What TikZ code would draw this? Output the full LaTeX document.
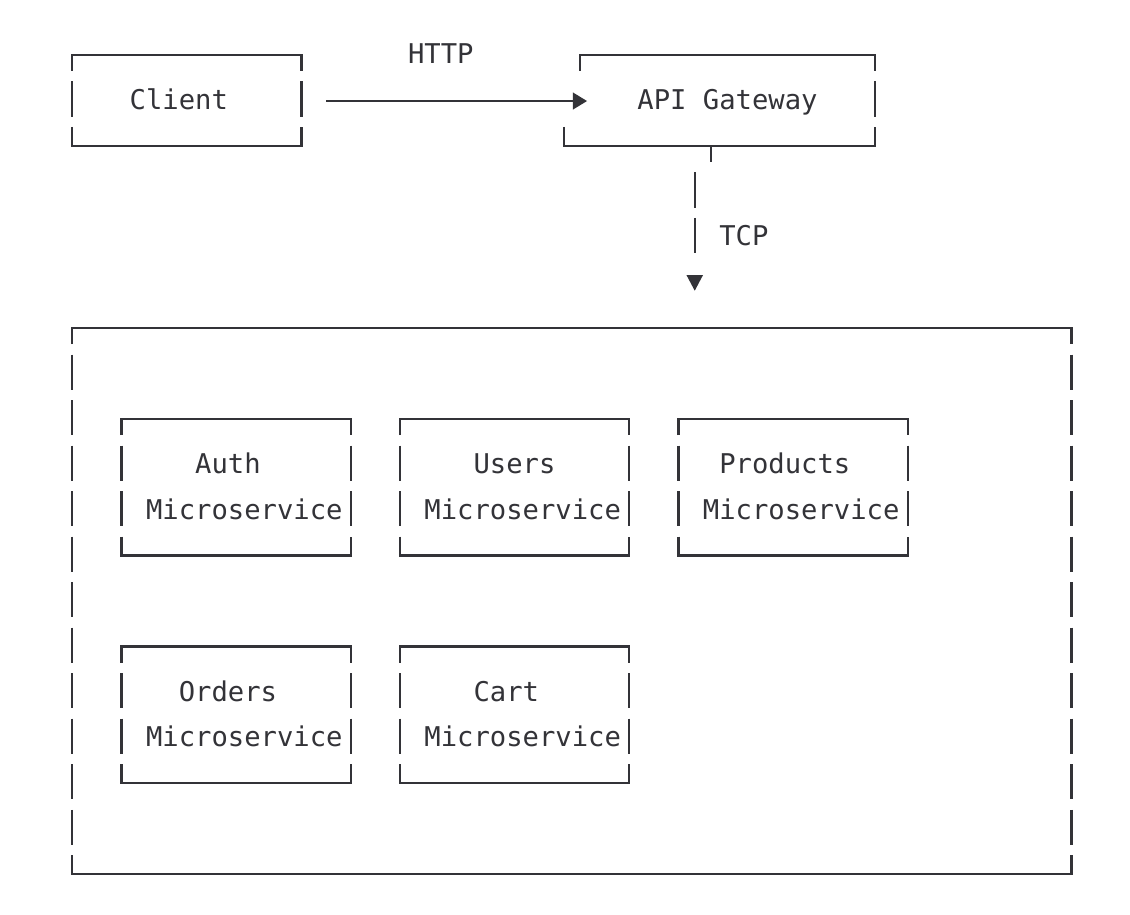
\documentclass[tikz,border=0pt]{standalone}
\usepackage{fontspec}
\setmonofont{DejaVu Sans Mono}
\usetikzlibrary{arrows.meta}
\definecolor{ink}{HTML}{333338}
\newcommand\CX[1]{(72.3+16.38*(#1))}
\newcommand\RY[1]{(53.5+45.52*(#1))}
\newcommand\HY[1]{(54.8+45.52*(#1))}
\tikzset{
  bline/.style={draw=ink, line width=2.3pt, line join=miter},
  lbl/.style={anchor=base west, inner sep=0pt, outer sep=0pt, text=ink,
              font=\ttfamily\fontsize{27.2}{27.2}\selectfont},
}
\newcommand\asciibox[4]{%
  \draw[bline] ({\CX{#1}},{\RY{#2}+17.4}) -- ({\CX{#1}},{\HY{#2}}) -- ({\CX{#3}},{\HY{#2}}) -- ({\CX{#3}},{\RY{#2}+17.4});
  \draw[bline] ({\CX{#1}},{\RY{#4}-17.6}) -- ({\CX{#1}},{\HY{#4}}) -- ({\CX{#3}},{\HY{#4}}) -- ({\CX{#3}},{\RY{#4}-17.6});
  \pgfmathtruncatemacro\boxra{#2+1}%
  \pgfmathtruncatemacro\boxrb{#4-1}%
  \foreach \rr in {\boxra,...,\boxrb}{%
    \draw[bline] ({\CX{#1}},{\RY{\rr}-17.6}) -- ({\CX{#1}},{\RY{\rr}+17.6});
    \draw[bline] ({\CX{#3}},{\RY{\rr}-17.6}) -- ({\CX{#3}},{\RY{\rr}+17.6});
  }%
}
\newcommand\txtat[4]{\node[lbl] (#1) at ({\CX{#2}-8.19},{\RY{#3}+10.3}) {#4};}
\begin{document}
\begin{tikzpicture}[x=1pt,y=-1pt]
\useasboundingbox (0,0) rectangle (1130,914);
\fill[white] (0,0) rectangle (1130,914);

% Client box
\asciibox{0}{0}{14}{2}
\txtat{client}{4}{1}{Client}

% HTTP label
\txtat{http}{21}{0}{HTTP}

% API Gateway box (irregular)
\draw[bline] ({\CX{31}},{\RY{0}+17.4}) -- ({\CX{31}},{\HY{0}}) -- ({\CX{49}},{\HY{0}}) -- ({\CX{49}},{\RY{0}+17.4});
\draw[bline] ({\CX{49}},{\RY{1}-17.6}) -- ({\CX{49}},{\RY{1}+17.6});
\draw[bline] ({\CX{30}},{\RY{2}-17.6}) -- ({\CX{30}},{\HY{2}}) -- ({\CX{49}},{\HY{2}}) -- ({\CX{49}},{\RY{2}-17.6});
\txtat{gateway}{35}{1}{API Gateway}

% HTTP connector
\coordinate (httpS) at ({\CX{16}-8.19},{\RY{1}+2});
\coordinate (httpE) at ({\CX{31}+7},{\RY{1}+2});
\draw[draw=ink, line width=2.3pt, -{Triangle[length=14.3pt,width=16.7pt]}] (httpS) -- (httpE);

% TCP connector
\coordinate (tcpA) at ({\CX{39}},{\HY{2}});
\coordinate (tcpB) at ({\CX{39}},{\RY{2}+17.2});
\draw[bline] (tcpA) -- (tcpB);
\foreach \rr in {3,4}{
  \draw[bline] ({\CX{38}},{\RY{\rr}-17.6}) -- ({\CX{38}},{\RY{\rr}+17.6});
}
\coordinate (tcpTip) at ({\CX{38}},{\RY{5}+9.6});
\fill[ink] ({\CX{38}-8.3},{\RY{5}-6.1}) -- ({\CX{38}+8.3},{\RY{5}-6.1}) -- (tcpTip) -- cycle;
\txtat{tcp}{40}{4}{TCP}

% Outer container
\asciibox{0}{6}{61}{18}

% Microservice boxes
\asciibox{3}{8}{17}{11}
\txtat{authA}{8}{9}{Auth}
\txtat{authB}{5}{10}{Microservice}

\asciibox{20}{8}{34}{11}
\txtat{usersA}{25}{9}{Users}
\txtat{usersB}{22}{10}{Microservice}

\asciibox{37}{8}{51}{11}
\txtat{prodA}{40}{9}{Products}
\txtat{prodB}{39}{10}{Microservice}

\asciibox{3}{13}{17}{16}
\txtat{ordA}{7}{14}{Orders}
\txtat{ordB}{5}{15}{Microservice}

\asciibox{20}{13}{34}{16}
\txtat{cartA}{25}{14}{Cart}
\txtat{cartB}{22}{15}{Microservice}
\end{tikzpicture}
\end{document}
